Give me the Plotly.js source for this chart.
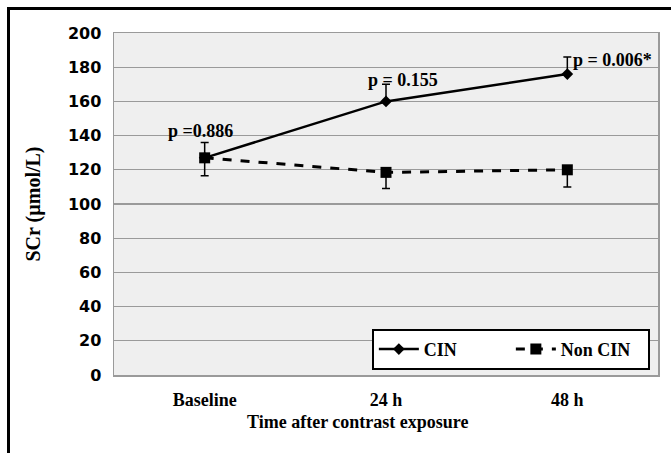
<!DOCTYPE html>
<html>
<head>
<meta charset="utf-8">
<script src="https://cdn.plot.ly/plotly-3.0.1.min.js"></script>
<style>
  html, body { margin: 0; padding: 0; background: #fff; }
  #frame { position: absolute; left: 7px; top: 7px; width: 664px; height: 446px;
           border-left: 3px solid #000; border-top: 3px solid #000; box-sizing: border-box; }
  #chart { position: absolute; left: 0; top: 0; width: 671px; height: 453px; }
</style>
</head>
<body>
<div id="frame"></div>
<div id="chart"></div>
<script>
const categories = ["Baseline", "24 h", "48 h"];
const cinValues = [127, 160, 176];
const cinErrUp = [9, 10, 10];
const nonCinValues = [127, 118.5, 120];
const nonCinErrDown = [10.5, 9.5, 10];
const yTicks = [0, 20, 40, 60, 80, 100, 120, 140, 160, 180, 200];
const pLabels = ["p =0.886", "p = 0.155", "p = 0.006*"];
const pLabelY = [142.5, 172.5, 184];
const pLabelShift = [-4, 17, 45];
const xTitle = "Time after contrast exposure";

const serif = "Liberation Serif, Times New Roman, serif";

const traces = [
  {
    x: categories, y: cinValues, name: "CIN", type: "scatter", mode: "lines+markers",
    line: { color: "#000", width: 2.5 },
    marker: { symbol: "diamond", size: 9, color: "#000" },
    error_y: { type: "data", array: cinErrUp, arrayminus: [0, 0, 0], symmetric: false,
               color: "#000", thickness: 1.5, width: 4 }
  },
  {
    x: categories, y: nonCinValues, name: "Non CIN", type: "scatter", mode: "lines+markers",
    line: { color: "#000", width: 3, dash: "dash" },
    marker: { symbol: "square", size: 11, color: "#000" },
    error_y: { type: "data", array: [0, 0, 0], arrayminus: nonCinErrDown, symmetric: false,
               color: "#000", thickness: 1.5, width: 4 }
  }
];

const annotations = categories.map((c, i) => ({
  x: c, y: pLabelY[i], xref: "x", yref: "y", text: pLabels[i], showarrow: false,
  xshift: pLabelShift[i], font: { family: serif, size: 18, color: "#000", weight: "bold" }
}));
annotations.push({
  x: 0.447, y: -0.138, xref: "paper", yref: "paper", text: xTitle, showarrow: false,
  xanchor: "center", yanchor: "middle",
  font: { family: serif, size: 18, color: "#000", weight: "bold" }
});

const layout = {
  width: 671, height: 453,
  margin: { l: 114, r: 13, t: 33, b: 78 },
  paper_bgcolor: "rgba(0,0,0,0)",
  plot_bgcolor: "#efefef",
  showlegend: true,
  legend: {
    orientation: "h", x: 0.474, y: 0.015, xanchor: "left", yanchor: "bottom",
    bgcolor: "#fff", bordercolor: "#000", borderwidth: 2,
    font: { family: serif, size: 18, color: "#000", weight: "bold" },
    itemwidth: 40, tracegroupgap: 0, entrywidth: 82, entrywidthmode: "pixels"
  },
  xaxis: {
    type: "category", categoryorder: "array", categoryarray: categories,
    range: [-0.5, 2.5],
    showgrid: false, showline: true, mirror: true, linecolor: "#9a9a9a", linewidth: 1.5,
    ticks: "", ticklabelstandoff: 8,
    tickfont: { family: serif, size: 18, color: "#000", weight: "bold" },
    zeroline: false
  },
  yaxis: {
    range: [0, 200], tickvals: yTicks, ticktext: yTicks.map(String),
    showgrid: true, gridcolor: "#9a9a9a", gridwidth: 1.3,
    showline: true, mirror: true, linecolor: "#9a9a9a", linewidth: 1.5,
    ticks: "", zeroline: false, ticklabelstandoff: 8,
    tickfont: { family: "DejaVu Sans, sans-serif", size: 16, color: "#000", weight: "bold" },
    title: { text: "SCr (µmol/L)", standoff: 22,
             font: { family: serif, size: 20, color: "#000", weight: "bold" } }
  },
  annotations: annotations
};

Plotly.newPlot("chart", traces, layout, { displayModeBar: false, staticPlot: true });
</script>
</body>
</html>
